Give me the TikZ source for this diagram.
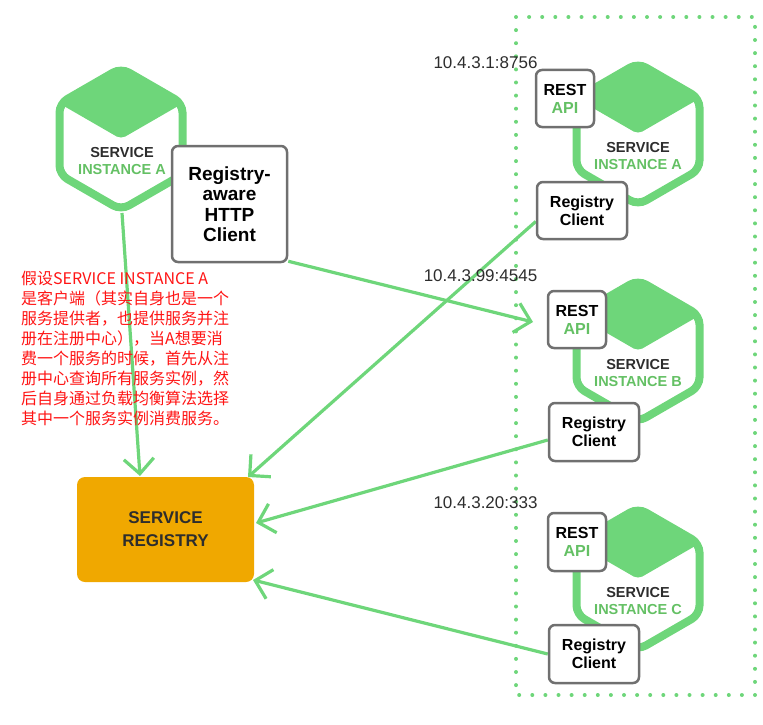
\documentclass[tikz,border=0pt]{standalone}
\usepackage{fontspec}
\setmainfont{Liberation Sans}
\newfontfamily\cjk{Noto Sans CJK SC}
\usetikzlibrary{arrows.meta,calc}
\pgfdeclarelayer{bg}
\pgfsetlayers{bg,main}
\definecolor{gr}{RGB}{110,214,122}
\definecolor{grt}{RGB}{100,192,100}
\definecolor{dk}{RGB}{45,45,45}
\definecolor{bx}{RGB}{112,112,112}
\definecolor{org}{RGB}{240,168,0}
\definecolor{rd}{RGB}{255,20,20}
\tikzset{
  hexcube/.pic={
    \fill[gr, rounded corners=5] (0,-71) -- (61.5,-35.5) -- (0,0) -- (-61.5,-35.5) -- cycle;
    \draw[gr, line width=8, rounded corners=9] (0,-71) -- (61.5,-35.5) -- (61.5,35.5) -- (0,71) -- (-61.5,35.5) -- (-61.5,-35.5) -- cycle;
  },
  svclabel/.style={font=\bfseries\fontsize{14.5}{17}\selectfont, align=center, text=dk, inner sep=0},
  wbox/.style={draw=bx, line width=2.5, fill=white, rounded corners=6, align=center, inner sep=0,
    font=\bfseries\fontsize{16}{18}\selectfont, text=black},
  conn/.style={gr, line width=3.2, -{Straight Barb[length=15pt,width=30pt,line width=3.2pt]}},
  iplabel/.style={font=\fontsize{17}{19}\selectfont, text=dk, inner sep=0},
}
\begin{document}
\begin{tikzpicture}[x=1pt,y=-1pt]
\useasboundingbox (0,0) rectangle (763,725);
% boxes (main layer)
\node[fill=org, rounded corners=8, minimum width=177, minimum height=105, inner sep=0,
  font=\bfseries\fontsize{17}{23}\selectfont, text=dk, align=center] (reg) at (165.5,529.5) {SERVICE\\REGISTRY};
\node[wbox, minimum width=115, minimum height=116, font=\bfseries\fontsize{19}{20.5}\selectfont] (http) at (229.5,204) {Registry-\\aware\\HTTP\\Client};
\node[wbox, minimum width=90, minimum height=57] (rcA) at (582,210.5) {Registry\\Client};
\node[wbox, minimum width=90, minimum height=58] (rcB) at (594,432) {Registry\\Client};
\node[wbox, minimum width=90, minimum height=58] (rcC) at (594,654) {Registry\\Client};
\node[wbox, minimum width=58, minimum height=57] (apiA) at (565,98.5) {REST\\\textcolor{grt}{API}};
\node[wbox, minimum width=58, minimum height=57] (apiB) at (577,319.5) {REST\\\textcolor{grt}{API}};
\node[wbox, minimum width=58, minimum height=58] (apiC) at (577,542) {REST\\\textcolor{grt}{API}};
% hexagon labels
\node[svclabel] (svcA) at (122,161) {SERVICE\\\textcolor{grt}{INSTANCE A}};
\node[svclabel] (svcA2) at (638,156) {SERVICE\\\textcolor{grt}{INSTANCE A}};
\node[svclabel] (svcB) at (638,373) {SERVICE\\\textcolor{grt}{INSTANCE B}};
\node[svclabel] (svcC) at (638,601) {SERVICE\\\textcolor{grt}{INSTANCE C}};
% ip labels
\node[iplabel] (ipA) at (485.5,63) {10.4.3.1:8756};
\node[iplabel] (ipB) at (480.5,276) {10.4.3.99:4545};
\node[iplabel] (ipC) at (485.5,503) {10.4.3.20:333};
% connector end points
\coordinate (hAbot) at (122,213);
\coordinate (t1) at (140,476);
\coordinate (t2) at (533,322);
\coordinate (t3) at (248,477);
\coordinate (t4) at (256,523);
\coordinate (t5) at (253,580);
\begin{pgfonlayer}{bg}
\draw[gr, line width=4, line cap=round, dash pattern=on 0pt off 13.1pt] (516,17) rectangle (755,695);
\pic at (121,139) {hexcube};
\pic at (638,134) {hexcube};
\pic at (638,351) {hexcube};
\pic at (638,579) {hexcube};
\draw[conn] (hAbot) -- (t1);
\draw[conn] ($(http.south east)+(0,-2)$) -- (t2);
\draw[conn] ($(rcA.west)+(0,11)$) -- (t3);
\draw[conn] ($(rcB.west)+(0,8)$) -- (t4);
\draw[conn] (rcC.west) -- (t5);
\end{pgfonlayer}
% red note
\node[anchor=north west, inner sep=0, align=left, text=rd, font=\cjk\fontsize{16}{20}\selectfont] (note) at (21,270.5) {假设SERVICE INSTANCE A\\是客户端（其实自身也是一个\\服务提供者，也提供服务并注\\册在注册中心），当A想要消\\费一个服务的时候，首先从注\\册中心查询所有服务实例，然\\后自身通过负载均衡算法选择\\其中一个服务实例消费服务。};
\end{tikzpicture}
\end{document}
